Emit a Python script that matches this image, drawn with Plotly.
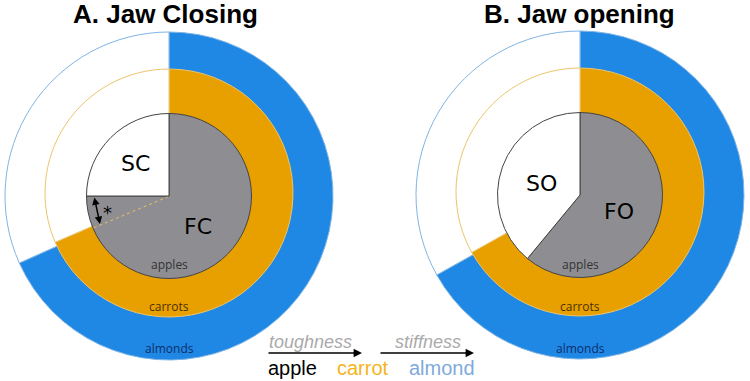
import math
import plotly.graph_objects as go

W, H = 750, 381

# ---- data (fractions of the circle, clockwise from 12 o'clock) ----
panels = ["A. Jaw Closing", "B. Jaw opening"]
foods = ["almonds", "carrots", "apples"]
almond_frac = [0.683, 0.669]
carrot_frac = [0.685, 0.669]
apple_frac = [0.75, 0.61]
fast_labels = ["FC", "FO"]
slow_labels = ["SC", "SO"]
scale_words = ["apple", "carrot", "almond"]
scale_axes = ["toughness", "stiffness"]

# ---- styling / geometry (pixels) ----
BLUE, ORANGE, GRAY = "#1f88e5", "#e8a000", "#8e8e92"
centers = [(169, 196), (580, 195)]
r_blue, r_orange, r_gray = 164, 124, 82.5


def px(x):
    return x / W


def py(y):
    return 1 - y / H


def dom(cx, cy, r):
    return dict(x=[px(cx - r), px(cx + r)], y=[py(cy + r), py(cy - r)])


fig = go.Figure()
ring_specs = [
    (almond_frac, BLUE, "#7fb4e4", r_blue, 1),
    (carrot_frac, ORANGE, "#ecc46c", r_orange, 1),
    (apple_frac, GRAY, "#444444", r_gray, 1),
]
for p in range(2):
    cx, cy = centers[p]
    for fr, col, lcol, rad, lw in ring_specs:
        f = fr[p]
        fig.add_trace(go.Pie(
            values=[f, 1 - f], labels=["a", "b"], sort=False,
            direction="clockwise", rotation=0,
            marker=dict(colors=[col, "white"], line=dict(color=lcol, width=lw)),
            textinfo="none", hoverinfo="skip", showlegend=False,
            domain=dom(cx, cy if rad != r_orange else cy - 3, rad),
        ))

annotations = []
for p in range(2):
    cx, cy = centers[p]
    annotations.append(dict(
        text=f"<b>{panels[p]}</b>", x=px(cx - 4 + (3 if p else 0)), y=py(14),
        font=dict(family="Liberation Sans, Arial", size=26, color="black")))
    # ring labels at bottom of each ring
    for txt, yy, col in [("apples", 264, "#333333"), ("carrots", 306, "#4a3000"),
                         ("almonds", 348, "#0d2d6b")]:
        annotations.append(dict(text=txt, x=px(cx), y=py(yy),
                                font=dict(family="Open Sans", size=12, color=col)))
# inner labels
annotations += [
    dict(text=slow_labels[0], x=px(135), y=py(163), font=dict(family="DejaVu Sans", size=22, color="black")),
    dict(text=fast_labels[0], x=px(198), y=py(226), font=dict(family="DejaVu Sans", size=22, color="black")),
    dict(text=slow_labels[1], x=px(541), y=py(183), font=dict(family="DejaVu Sans", size=22, color="black")),
    dict(text=fast_labels[1], x=px(619), y=py(211), font=dict(family="DejaVu Sans", size=22, color="black")),
    dict(text="*", x=px(107), y=py(212), font=dict(family="DejaVu Sans", size=18, color="black")),
]
# scale legend
annotations += [
    dict(text=f"<i>{scale_axes[0]}</i>", x=px(310), y=py(342), font=dict(family="Liberation Sans, Arial", size=18, color="#aaaaaa")),
    dict(text=f"<i>{scale_axes[1]}</i>", x=px(428), y=py(342), font=dict(family="Liberation Sans, Arial", size=18, color="#aaaaaa")),
    dict(text=scale_words[0], x=px(292), y=py(368), font=dict(family="Liberation Sans, Arial", size=20, color="black")),
    dict(text=scale_words[1], x=px(363), y=py(368), font=dict(family="Liberation Sans, Arial", size=20, color="#f5b41a")),
    dict(text=scale_words[2], x=px(442), y=py(368), font=dict(family="Liberation Sans, Arial", size=20, color="#7faadc")),
]
for a in annotations:
    a.update(xref="paper", yref="paper", showarrow=False, xanchor="center", yanchor="middle")

# double arrow in panel A
annotations.append(dict(x=px(100), y=py(224), ax=-6, ay=-28, text="", showarrow=True,
                        arrowside="end+start", arrowhead=2, arrowsize=1, arrowwidth=1.5,
                        arrowcolor="black", xref="paper", yref="paper"))
for x0, x1 in [(267, 362), (379, 474)]:
    annotations.append(dict(x=px(x1), y=py(353), ax=-(x1 - x0), ay=0, text="", showarrow=True,
                            arrowhead=2, arrowsize=1.2, arrowwidth=1.4, arrowcolor="black",
                            xref="paper", yref="paper"))

# dotted line along the carrot boundary in panel A
cxA, cyA = 169.5, 195
th = carrot_frac[0] * 2 * math.pi
ex, ey = cxA + r_gray * math.sin(th), cyA - r_gray * math.cos(th)
shapes = [dict(type="line", xref="paper", yref="paper", x0=px(ex), y0=py(ey),
               x1=px(cxA - 2), y1=py(cyA + 2), line=dict(color="#e8c060", width=1, dash="dot"))]

fig.update_layout(width=W, height=H, margin=dict(l=0, r=0, t=0, b=0),
                  paper_bgcolor="white", plot_bgcolor="white",
                  annotations=annotations, shapes=shapes)
fig.write_html("out.html", config={"displayModeBar": False},
               post_script="document.body.style.margin='0';document.body.style.overflow='hidden';")
